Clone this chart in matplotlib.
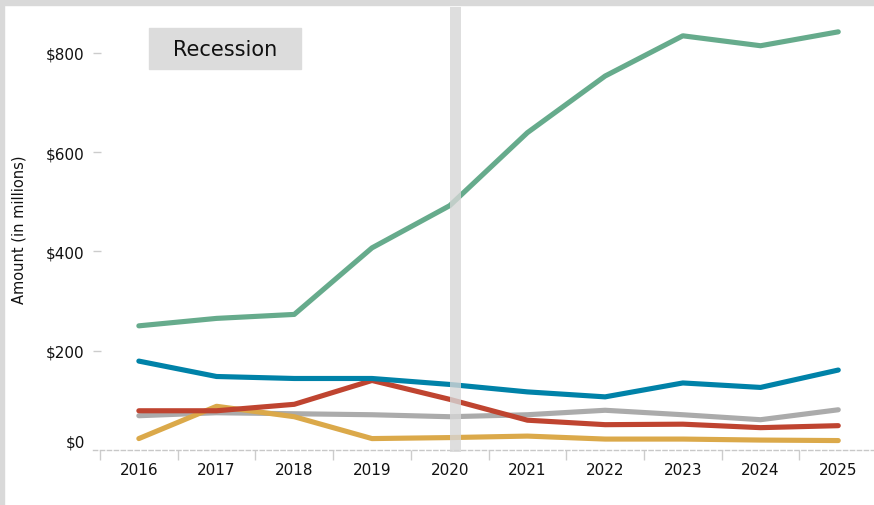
import matplotlib
matplotlib.use("Agg")
import matplotlib.pyplot as plt
from matplotlib.patches import Rectangle
from matplotlib.ticker import FixedLocator

years = [2016, 2017, 2018, 2019, 2020, 2021, 2022, 2023, 2024, 2025]
green = [250, 265, 273, 407, 492, 639, 753, 834, 814, 842]
blue = [179, 148, 144, 144, 132, 117, 107, 135, 126, 161]
red = [79, 79, 92, 140, 102, 60, 51, 52, 45, 49]
gray = [69, 75, 73, 71, 67, 71, 80, 71, 61, 81]
yellow = [23, 88, 67, 23, 25, 28, 22, 22, 20, 19]
recession_year = 2020
yticks = [0, 200, 400, 600, 800]
ytick_labels = ["$0", "$200", "$400", "$600", "$800"]

plt.rcParams['font.family'] = ['DejaVu Sans']

fig = plt.figure(figsize=(8.74, 5.06), dpi=100)
W, H = 874, 506

# frame bars
fig.patches.append(Rectangle((0, 0), 4 / W, 1, transform=fig.transFigure,
                             color='#d9d9d9', zorder=0))
fig.patches.append(Rectangle((0, 1 - 6 / H), 1, 6 / H, transform=fig.transFigure,
                             color='#d9d9d9', zorder=0))

ax = fig.add_axes([93 / W, (506 - 451) / H, (874 - 93) / W, (451 - 8) / H])
ax.set_xlim(2015.41, 2025.46)
ax.set_ylim(0, 892)

series = [(gray, '#ababab'), (yellow, '#dba94a'), (red, '#bf4430'),
          (blue, '#0082a8'), (green, '#66ab8c')]
for vals, col in series:
    ax.plot(years, vals, color=col, lw=3.7, solid_capstyle='round',
            solid_joinstyle='round', zorder=3)

# recession band
ax.axvspan(recession_year, recession_year + 0.14, ymin=-0.005, ymax=1.0,
           color='#d6d6d6', alpha=0.8, zorder=4, lw=0, clip_on=False)

for s in ['top', 'right', 'left']:
    ax.spines[s].set_visible(False)
ax.spines['bottom'].set_color('#c8c8c8')
ax.spines['bottom'].set_linestyle((0, (3, 2)))
ax.spines['bottom'].set_linewidth(1.0)

ax.set_xticks(years)
ax.set_xticklabels([str(y) for y in years])
ax.xaxis.set_minor_locator(FixedLocator([y - 0.5 for y in years]))
ax.tick_params(axis='x', which='major', length=0, pad=9, labelsize=11,
               labelcolor='#111111')
ax.tick_params(axis='x', which='minor', length=7, width=1, color='#cccccc',
               direction='out')

ax.set_yticks(yticks)
ax.set_yticklabels(ytick_labels)
ax.tick_params(axis='y', which='major', length=6, width=1, color='#cccccc',
               direction='in', pad=6, labelsize=11, labelcolor='#111111')
ax.get_yticklabels()[0].set_va('bottom')
ax.yaxis.get_major_ticks()[0].tick1line.set_visible(False)

ax.set_ylabel("Amount (in millions)", fontsize=10.5, color='#111111', labelpad=14)

# Recession label box
box_l, box_r, box_t, box_b = 149, 301, 29, 70
fig.patches.append(Rectangle((box_l / W, 1 - box_b / H), (box_r - box_l) / W,
                             (box_b - box_t) / H, transform=fig.transFigure,
                             color='#dcdcdc', zorder=5))
fig.text((box_l + box_r) / 2 / W, 1 - (box_t + box_b) / 2 / H, "Recession",
         ha='center', va='center', fontsize=15, color='#111111', zorder=6)

fig.savefig("out.png", dpi=100)
